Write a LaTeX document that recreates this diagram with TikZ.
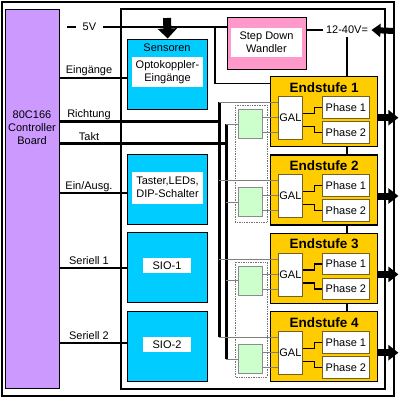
\documentclass[tikz,border=0pt]{standalone}
\usepackage{fontspec}
\setmainfont{Liberation Sans}
\usetikzlibrary{arrows.meta}

\definecolor{ctrlviolet}{RGB}{204,153,255}
\definecolor{iocyan}{RGB}{0,204,255}
\definecolor{sdpink}{RGB}{255,153,204}
\definecolor{stageyellow}{RGB}{255,204,0}
\definecolor{drvgreen}{RGB}{204,255,204}
\definecolor{galedge}{RGB}{120,96,32}

\begin{document}
\begin{tikzpicture}[
  x=1pt,
  y=-1pt,
  font=\fontsize{11}{13}\selectfont,
  box/.style={
    draw=black,
    line width=1.4pt,
    anchor=north west,
    inner sep=0pt
  },
  ctrlbox/.style={box, fill=ctrlviolet, minimum width=54pt, minimum height=379pt},
  iobox/.style={box, fill=iocyan, minimum width=80pt, minimum height=70pt},
  sdbox/.style={box, fill=sdpink, minimum width=79pt, minimum height=52pt},
  stage/.style={box, fill=stageyellow, minimum width=107pt, minimum height=70pt},
  inlay/.style={fill=white, inner sep=0pt, align=center},
  gal/.style={
    draw=galedge,
    fill=white,
    line width=0.8pt,
    anchor=north west,
    inner sep=0pt,
    minimum width=24pt,
    minimum height=43pt
  },
  phase/.style={gal, minimum width=47pt, minimum height=21.5pt},
  drv/.style={
    draw=black!45,
    fill=drvgreen,
    line width=0.8pt,
    anchor=north west,
    minimum width=24pt,
    minimum height=29pt
  },
  title/.style={anchor=base, inner sep=0pt, font=\fontsize{13.5}{16}\selectfont\bfseries},
  lbl/.style={anchor=base, inner sep=0pt},
  group/.style={draw=black!55, densely dotted, line width=0.7pt},
  wire/.style={line width=2.2pt},
  bus/.style={line width=3pt},
  pwr/.style={line width=1.3pt},
  sig/.style={draw=black!50, line width=0.8pt},
  blockarrow/.style={
    line width=7pt,
    -{Triangle[width=15pt,length=10pt]}
  },
  feedarrow/.style={
    line width=8pt,
    -{Triangle[width=19pt,length=10pt]}
  },
  mainsarrow/.style={
    line width=6pt,
    -{Triangle[width=13pt,length=9pt]}
  }
  ]

  \useasboundingbox (0,0) rectangle (400,400);
  \draw [pwr] (2,2) rectangle (394,396);
  \draw [pwr] (121,9) rectangle (385,389);

  % controller and i/o blocks
  \node (ctrl) [ctrlbox] at (5,9) {};
  \node (ctrl-name) [align=center] at (32,128) {80C166\\Controller\\Board};

  \node (sens) [iobox] at (127,38.5) {};
  \node (sens-name) at (167,48) {Sensoren};
  \node (sens-txt) [inlay, minimum width=71pt, minimum height=30pt] at (167.5,72) {Optokoppler-\\Eingänge};
  \node (keys) [iobox] at (127,154) {};
  \node (keys-txt) [inlay, minimum width=71pt, minimum height=32pt] at (167.5,187.5) {Taster,LEDs,\\DIP-Schalter};
  \node (sio1) [iobox] at (127,232) {};
  \node (sio1-txt) [inlay, minimum width=48pt, minimum height=15pt] at (167,265.5) {SIO-1};
  \node (sio2) [iobox] at (127,310.5) {};
  \node (sio2-txt) [inlay, minimum width=48pt, minimum height=15pt] at (167,344.5) {SIO-2};

  \node (sd) [sdbox] at (227,17) {};
  \node (sd-txt) [inlay, minimum width=71pt, minimum height=29pt] at (266.5,42.5) {Step Down\\Wandler};
  \node (vin) at (347,30) {12-40V=};

  % output stages
  \node (st1) [stage] at (270,76) {};
  \node (st2) [stage] at (270,154.3) {};
  \node (st3) [stage] at (270,232.7) {};
  \node (st4) [stage] at (270,311) {};
  \node (st1-title) [title] at ([yshift=-16pt]st1.north) {Endstufe 1};
  \node (st2-title) [title] at ([yshift=-16pt]st2.north) {Endstufe 2};
  \node (st3-title) [title] at ([yshift=-16pt]st3.north) {Endstufe 3};
  \node (st4-title) [title] at ([yshift=-16pt]st4.north) {Endstufe 4};

  \node (gal1) [gal] at (278,96) {GAL};
  \node (ph1a) [phase] at (322,96) {Phase 1};
  \node (ph1b) [phase] at (322,121) {Phase 2};
  \node (gal2) [gal] at (278,174.3) {GAL};
  \node (ph2a) [phase] at (322,174.3) {Phase 1};
  \node (ph2b) [phase] at (322,199.3) {Phase 2};
  \node (gal3) [gal] at (278,252.7) {GAL};
  \node (ph3a) [phase] at (322,252.7) {Phase 1};
  \node (ph3b) [phase] at (322,277.7) {Phase 2};
  \node (gal4) [gal] at (278,331) {GAL};
  \node (ph4a) [phase] at (322,331) {Phase 1};
  \node (ph4b) [phase] at (322,356) {Phase 2};

  \node (drv1) [drv] at (238,109) {};
  \node (drv2) [drv] at (238,187.3) {};
  \node (drv3) [drv] at (238,265.7) {};
  \node (drv4) [drv] at (238,344) {};
  \draw [group] (235,105) rectangle (267,222);
  \draw [group] (235,262) rectangle (267,377);

  \coordinate (v5) at (67,27);
  \coordinate (v5-tap) at (215,27);
  \coordinate (dir) at (219,121);
  \coordinate (clk) at (226,143);
  \coordinate (mains) at (394,31);
  \coordinate (sens-feed) at (167,18);

  % supply
  \draw [pwr] (v5) -- node [fill=white, inner xsep=7pt, pos=0.14] {5V} (v5 -| sd.west);
  \draw [pwr] (v5-tap) |- ([yshift=28pt]st1.west);
  \draw [pwr] (vin.west -| sd.east) -- (vin.west);
  \draw [pwr] (vin.south) -- (vin.south |- st1.north);
  \draw [pwr] (st1.south -| vin.south) -- (st2.north -| vin.south);
  \draw [pwr] (st2.south -| vin.south) -- (st3.north -| vin.south);
  \draw [pwr] (st3.south -| vin.south) -- (st4.north -| vin.south);
  \draw [mainsarrow] (mains) -- (vin.east);
  \draw [feedarrow] (sens-feed) -- (sens.north);

  % controller lines
  \draw [wire] ([yshift=-3.5pt]sens.west -| ctrl.east) -- ([yshift=-3.5pt]sens.west);
  \draw [bus] (dir -| ctrl.east) -- (dir);
  \draw [bus] (clk -| ctrl.east) -- (clk);
  \draw [wire] ([yshift=-3pt]keys.west -| ctrl.east) -- ([yshift=-3pt]keys.west);
  \draw [wire] (sio1.west -| ctrl.east) -- (sio1.west);
  \draw [wire] ([yshift=3.5pt]sio2.west -| ctrl.east) -- ([yshift=3.5pt]sio2.west);
  \node (l-ein) [lbl] at (89,73.5) {Eingänge};
  \node (l-dir) [lbl] at (89,117.5) {Richtung};
  \node (l-clk) [lbl] at (89,140) {Takt};
  \node (l-io) [lbl] at (89,189) {Ein/Ausg.};
  \node (l-s1) [lbl] at (89,264) {Seriell 1};
  \node (l-s2) [lbl] at (89,339) {Seriell 2};

  \draw [bus] ([yshift=15.5pt]gal1.west -| dir) -- ([yshift=15.5pt]gal4.west -| dir);
  \draw [bus] (drv1.west -| clk) -- (drv4.west -| clk);

  % stage 1
  \draw [sig] ([yshift=15.5pt]gal1.west -| dir) -- ([yshift=15.5pt]gal1.west);
  \draw [sig] (drv1.west -| clk) -- (drv1.west);
  \draw [sig] ([yshift=6.5pt]drv1.east) -- ([yshift=6.5pt]drv1.east -| gal1.west);
  \draw [sig] ([yshift=-8.5pt]drv1.east) -- ([yshift=-8.5pt]drv1.east -| gal1.west);
  \draw [pwr] ([yshift=4.5pt]gal1.east) -- ++(12,0) |- (ph1a.west);
  \draw [pwr] ([yshift=-8.5pt]gal1.east) -- ++(12,0) |- (ph1b.west);
  \draw [blockarrow] ([yshift=-6pt]st1.east) -- +(20,0);

  % stage 2
  \draw [sig] ([yshift=15.5pt]gal2.west -| dir) -- ([yshift=15.5pt]gal2.west);
  \draw [sig] (drv2.west -| clk) -- (drv2.west);
  \draw [sig] ([yshift=6.5pt]drv2.east) -- ([yshift=6.5pt]drv2.east -| gal2.west);
  \draw [sig] ([yshift=-8.5pt]drv2.east) -- ([yshift=-8.5pt]drv2.east -| gal2.west);
  \draw [pwr] ([yshift=4.5pt]gal2.east) -- ++(12,0) |- (ph2a.west);
  \draw [pwr] ([yshift=-8.5pt]gal2.east) -- ++(12,0) |- (ph2b.west);
  \draw [blockarrow] ([yshift=-6pt]st2.east) -- +(20,0);

  % stage 3
  \draw [sig] ([yshift=15.5pt]gal3.west -| dir) -- ([yshift=15.5pt]gal3.west);
  \draw [sig] (drv3.west -| clk) -- (drv3.west);
  \draw [sig] ([yshift=6.5pt]drv3.east) -- ([yshift=6.5pt]drv3.east -| gal3.west);
  \draw [sig] ([yshift=-8.5pt]drv3.east) -- ([yshift=-8.5pt]drv3.east -| gal3.west);
  \draw [pwr] ([yshift=4.5pt]gal3.east) -- ++(12,0) |- (ph3a.west);
  \draw [pwr] ([yshift=-8.5pt]gal3.east) -- ++(12,0) |- (ph3b.west);
  \draw [blockarrow] ([yshift=-6pt]st3.east) -- +(20,0);

  % stage 4
  \draw [sig] ([yshift=15.5pt]gal4.west -| dir) -- ([yshift=15.5pt]gal4.west);
  \draw [sig] (drv4.west -| clk) -- (drv4.west);
  \draw [sig] ([yshift=6.5pt]drv4.east) -- ([yshift=6.5pt]drv4.east -| gal4.west);
  \draw [sig] ([yshift=-8.5pt]drv4.east) -- ([yshift=-8.5pt]drv4.east -| gal4.west);
  \draw [pwr] ([yshift=4.5pt]gal4.east) -- ++(12,0) |- (ph4a.west);
  \draw [pwr] ([yshift=-8.5pt]gal4.east) -- ++(12,0) |- (ph4b.west);
  \draw [blockarrow] ([yshift=-6pt]st4.east) -- +(20,0);
\end{tikzpicture}
\end{document}
